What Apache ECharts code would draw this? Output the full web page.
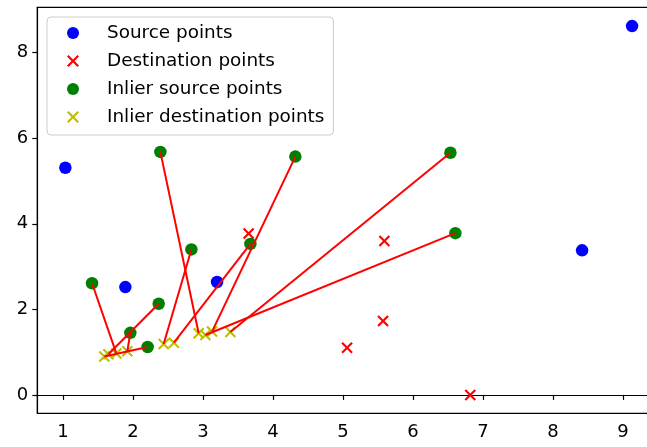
<!DOCTYPE html>
<html>
<head>
<meta charset="utf-8">
<script src="https://cdn.jsdelivr.net/npm/echarts@6/dist/echarts.min.js"></script>
<style>
html,body{margin:0;padding:0;background:#fff;overflow:hidden;}
#chart{width:647px;height:447px;}
</style>
</head>
<body>
<div id="chart"></div>
<script>
// ---- data ----
var sourceX = [1.036, 1.893, 3.203, 8.417, 9.131];
var sourceY = [5.31, 2.52, 2.64, 3.38, 8.62];
var destX = [3.654, 5.593, 5.574, 5.06, 6.82];
var destY = [3.77, 3.60, 1.73, 1.10, 0.00];
var inlierSrcX = [1.417, 2.393, 4.321, 6.536, 6.607, 2.836, 3.679, 2.369, 1.964, 2.211];
var inlierSrcY = [2.61, 5.68, 5.57, 5.66, 3.78, 3.40, 3.53, 2.13, 1.45, 1.12];
var inlierDstX = [1.764, 2.94, 3.131, 3.393, 3.036, 2.44, 2.586, 1.65, 1.921, 1.593];
var inlierDstY = [0.97, 1.44, 1.48, 1.47, 1.40, 1.19, 1.22, 0.95, 1.02, 0.90];
var xTicks = [1, 2, 3, 4, 5, 6, 7, 8, 9];
var yTicks = [0, 2, 4, 6, 8];
var seriesNames = ['Source points', 'Destination points', 'Inlier source points', 'Inlier destination points'];

function zip(a, b) { return a.map(function (v, i) { return [v, b[i]]; }); }
var X_PATH = 'path://M1.3,0 L5,3.7 L8.7,0 L10,1.3 L6.3,5 L10,8.7 L8.7,10 L5,6.3 L1.3,10 L0,8.7 L3.7,5 L0,1.3 Z';

var pairLines = inlierSrcX.map(function (v, i) {
  return { coords: [[v, inlierSrcY[i]], [inlierDstX[i], inlierDstY[i]]] };
});

var font = 'DejaVu Sans';
var chart = echarts.init(document.getElementById('chart'), null, { renderer: 'canvas' });
chart.setOption({
  animation: false,
  backgroundColor: '#ffffff',
  grid: {
    left: 37.3, top: 7.3, width: 622.7, height: 406,
    outerBoundsMode: 'none', containLabel: false,
    show: true, borderColor: '#000', borderWidth: 1.2, backgroundColor: 'transparent'
  },
  xAxis: {
    type: 'value', min: 0.635, max: 9.53,
    axisLine: { show: true, lineStyle: { color: '#000', width: 1.2 } },
    axisTick: { show: true, customValues: xTicks, length: 5, lineStyle: { color: '#000', width: 1.2 } },
    axisLabel: { customValues: xTicks, color: '#000', fontSize: 18, fontFamily: font, margin: 10 },
    splitLine: { show: false }
  },
  yAxis: {
    type: 'value', min: -0.43, max: 9.06,
    axisLine: { show: true, lineStyle: { color: '#000', width: 1.2 } },
    axisTick: { show: true, customValues: yTicks, length: 5, lineStyle: { color: '#000', width: 1.2 } },
    axisLabel: { customValues: yTicks, color: '#000', fontSize: 18, fontFamily: font, margin: 9 },
    splitLine: { show: false }
  },
  legend: {
    orient: 'vertical', left: 47, top: 17,
    padding: [6, 9, 8, 20], itemGap: 8, itemWidth: 12, itemHeight: 12,
    backgroundColor: 'rgba(255,255,255,0.8)', borderColor: '#cccccc', borderWidth: 1, borderRadius: 4,
    textStyle: { fontSize: 18.4, lineHeight: 20, color: '#000', fontFamily: font, padding: [0, 0, 0, 23] },
    data: seriesNames
  },
  series: [
    { name: seriesNames[0], type: 'scatter', symbol: 'circle', symbolSize: 12.5,
      itemStyle: { color: '#0000ff', opacity: 1 }, data: zip(sourceX, sourceY) },
    { name: seriesNames[1], type: 'scatter', symbol: X_PATH, symbolSize: 11.5,
      itemStyle: { color: '#ff0000', opacity: 1 }, data: zip(destX, destY) },
    { name: seriesNames[2], type: 'scatter', symbol: 'circle', symbolSize: 12.5,
      itemStyle: { color: '#008000', opacity: 1 }, data: zip(inlierSrcX, inlierSrcY) },
    { name: seriesNames[3], type: 'scatter', symbol: X_PATH, symbolSize: 11.5,
      itemStyle: { color: '#bfbf00', opacity: 1 }, data: zip(inlierDstX, inlierDstY) },
    { name: 'matches', type: 'lines', coordinateSystem: 'cartesian2d', z: 5,
      lineStyle: { color: '#ff0000', width: 2, opacity: 1, curveness: 0 },
      data: pairLines }
  ]
});
</script>
</body>
</html>
